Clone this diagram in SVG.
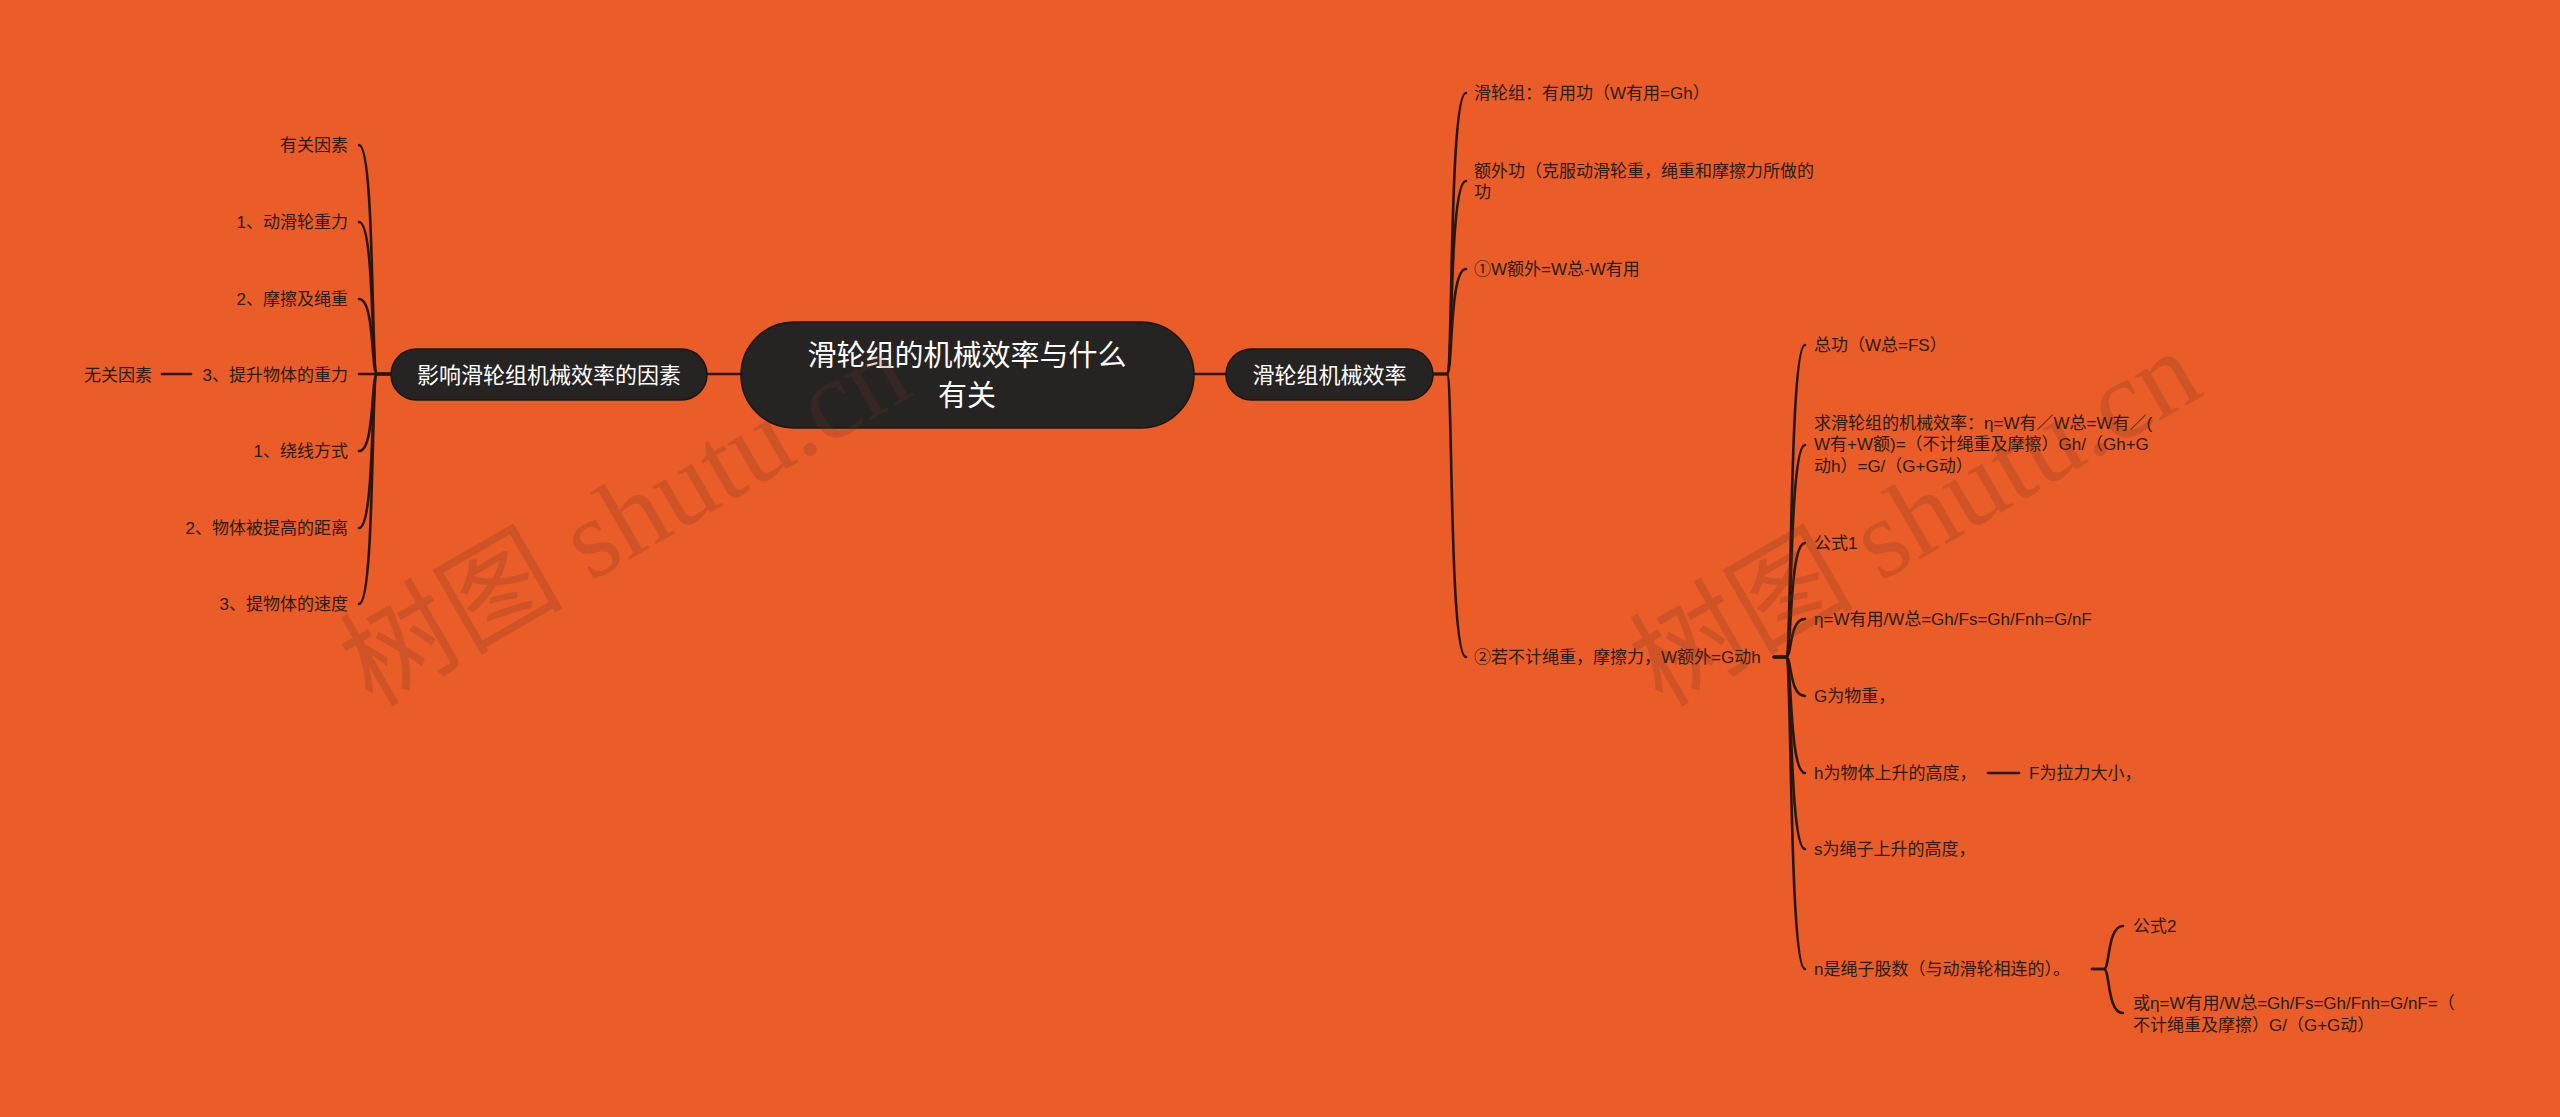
<svg xmlns="http://www.w3.org/2000/svg" width="2560" height="1117" viewBox="0 0 2560 1117">
<style>
.bg{fill:#EA5C28}
.pill{fill:#262423;stroke:#1a1614;stroke-width:1.5}
.pt{fill:#ffffff;font-family:"Noto Sans CJK SC","Liberation Sans",sans-serif;font-size:22px;text-anchor:middle}
.ct{fill:#ffffff;font-family:"Noto Sans CJK SC","Liberation Sans",sans-serif;font-size:29px;text-anchor:middle}
.t{fill:#2a1d17;font-family:"Liberation Sans","Noto Sans CJK SC",sans-serif;font-size:17px}
.e{text-anchor:end}
.ln{fill:none;stroke:#2a1810;stroke-width:2.6;stroke-linecap:round}
.wm{fill:#6e3520;opacity:0.22;font-family:"Liberation Serif","Noto Sans CJK SC",serif;font-size:112px}
</style>
<rect class="bg" x="0" y="0" width="2560" height="1117"/>

<g id="connectors">
<path class="ln" d="M707 374 L741 374"/>
<path class="ln" d="M1194 374 L1226 374"/>
<path class="ln" d="M391 374 L377 374 C371 374 375 145 359 145"/>
<path class="ln" d="M391 374 L377 374 C371 374 375 222 359 222"/>
<path class="ln" d="M391 374 L377 374 C371 374 375 299 359 299"/>
<path class="ln" d="M391 374 L359 374"/>
<path class="ln" d="M391 374 L377 374 C371 374 375 451 359 451"/>
<path class="ln" d="M391 374 L377 374 C371 374 375 528 359 528"/>
<path class="ln" d="M391 374 L377 374 C371 374 375 604 359 604"/>
<path class="ln" d="M191 374 L162 374"/>
<path class="ln" d="M1433 374 L1447 374 C1453 374 1449 93 1466 93"/>
<path class="ln" d="M1433 374 L1447 374 C1453 374 1449 181 1466 181"/>
<path class="ln" d="M1433 374 L1447 374 C1453 374 1449 269 1466 269"/>
<path class="ln" d="M1433 374 L1447 374 C1453 374 1449 657 1466 657"/>
<path class="ln" d="M1774 657 L1786 657 C1792 657 1789 345 1805 345"/>
<path class="ln" d="M1774 657 L1786 657 C1792 657 1789 445 1805 445"/>
<path class="ln" d="M1774 657 L1786 657 C1792 657 1789 543 1805 543"/>
<path class="ln" d="M1774 657 L1786 657 C1792 657 1789 619 1805 619"/>
<path class="ln" d="M1774 657 L1786 657 C1792 657 1789 696 1805 696"/>
<path class="ln" d="M1774 657 L1786 657 C1792 657 1789 773 1805 773"/>
<path class="ln" d="M1774 657 L1786 657 C1792 657 1789 849 1805 849"/>
<path class="ln" d="M1774 657 L1786 657 C1792 657 1789 969 1805 969"/>
<path class="ln" d="M1988 773 L2019 773"/>
<path class="ln" d="M2092 969 L2104 969 C2110 969 2107 926 2123 926"/>
<path class="ln" d="M2092 969 L2104 969 C2110 969 2107 1013 2123 1013"/>
</g>

<g id="root">
<rect class="pill" x="741" y="322" width="453" height="106" rx="53"/>
<text class="ct" x="967" y="366">滑轮组的机械效率与什么</text>
<text class="ct" x="967" y="406">有关</text>
</g>

<g id="left-main">
<rect class="pill" x="391" y="349" width="316" height="51" rx="25.5"/>
<text class="pt" x="549" y="383">影响滑轮组机械效率的因素</text>
</g>
<g id="l1"><text class="t e" x="348" y="151">有关因素</text></g>
<g id="l2"><text class="t e" x="348" y="228">1、动滑轮重力</text></g>
<g id="l3"><text class="t e" x="348" y="305">2、摩擦及绳重</text></g>
<g id="l4"><text class="t e" x="348" y="381">3、提升物体的重力</text></g>
<g id="l4a"><text class="t e" x="152" y="381">无关因素</text></g>
<g id="l5"><text class="t e" x="348" y="457">1、绕线方式</text></g>
<g id="l6"><text class="t e" x="348" y="534">2、物体被提高的距离</text></g>
<g id="l7"><text class="t e" x="348" y="610">3、提物体的速度</text></g>

<g id="right-main">
<rect class="pill" x="1226" y="349" width="207" height="51" rx="25.5"/>
<text class="pt" x="1329.5" y="383">滑轮组机械效率</text>
</g>
<g id="r1"><text class="t" x="1474" y="99">滑轮组：有用功（W有用=Gh）</text></g>
<g id="r2"><text class="t" x="1474" y="177">额外功（克服动滑轮重，绳重和摩擦力所做的</text><text class="t" x="1474" y="198">功</text></g>
<g id="r3"><text class="t" x="1474" y="275">①W额外=W总-W有用</text></g>
<g id="r4"><text class="t" x="1474" y="663">②若不计绳重，摩擦力，W额外=G动h</text></g>

<g id="s1"><text class="t" x="1814" y="351">总功（W总=FS）</text></g>
<g id="s2">
<text class="t" x="1814" y="429">求滑轮组的机械效率：η=W有／W总=W有／(</text>
<text class="t" x="1814" y="450">W有+W额)=（不计绳重及摩擦）Gh/（Gh+G</text>
<text class="t" x="1814" y="472">动h）=G/（G+G动）</text>
</g>
<g id="s3"><text class="t" x="1814" y="549">公式1</text></g>
<g id="s4"><text class="t" x="1814" y="625">η=W有用/W总=Gh/Fs=Gh/Fnh=G/nF</text></g>
<g id="s5"><text class="t" x="1814" y="702">G为物重，</text></g>
<g id="s6"><text class="t" x="1814" y="779">h为物体上升的高度，</text></g>
<g id="s6a"><text class="t" x="2029" y="779">F为拉力大小，</text></g>
<g id="s7"><text class="t" x="1814" y="855">s为绳子上升的高度，</text></g>
<g id="s8"><text class="t" x="1814" y="975">n是绳子股数（与动滑轮相连的）。</text></g>
<g id="s8a"><text class="t" x="2133" y="932">公式2</text></g>
<g id="s8b">
<text class="t" x="2133" y="1009">或η=W有用/W总=Gh/Fs=Gh/Fnh=G/nF=（</text>
<text class="t" x="2133" y="1031">不计绳重及摩擦）G/（G+G动）</text>
</g>

<text class="wm" x="372" y="708" transform="rotate(-30 372 708)">树图 shutu.cn</text>
<text class="wm" x="1662" y="708" transform="rotate(-30 1662 708)">树图 shutu.cn</text>
</svg>
